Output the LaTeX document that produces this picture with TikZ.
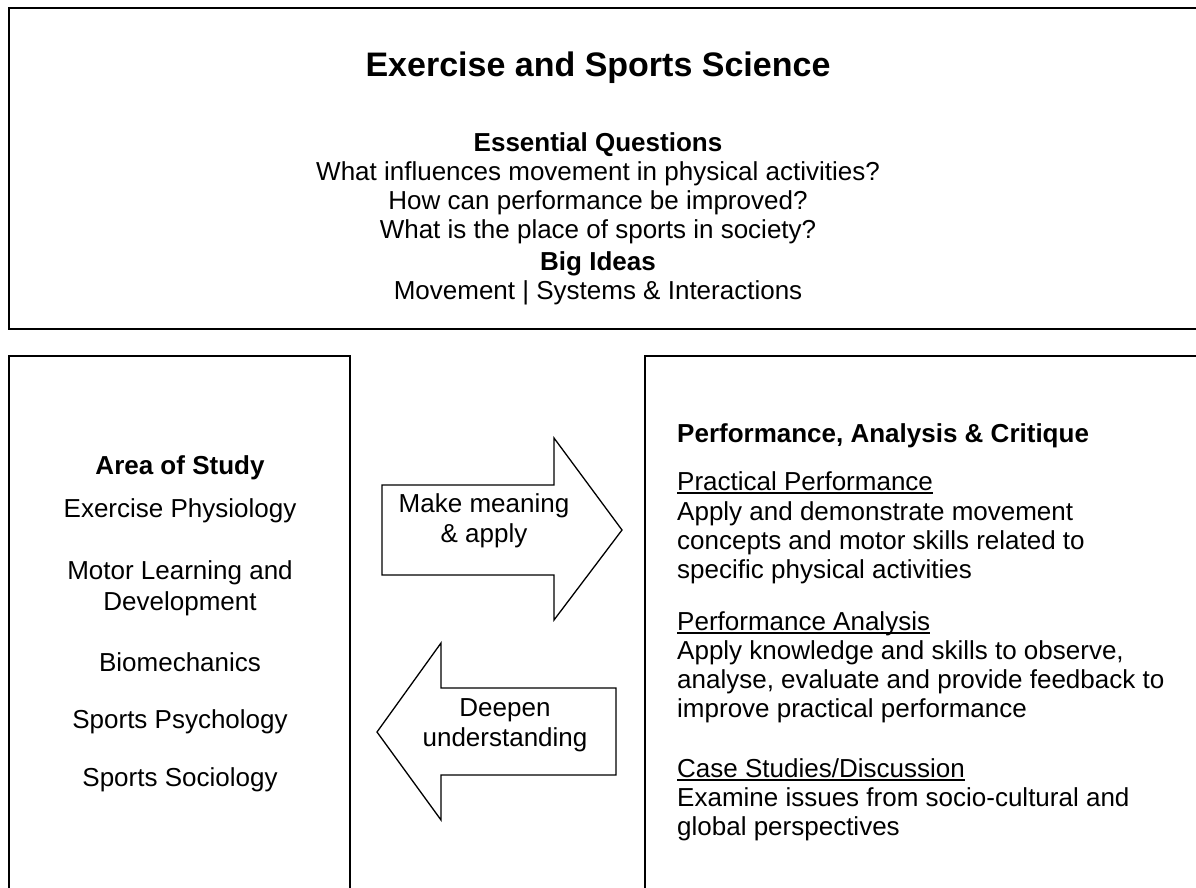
\documentclass[tikz,border=0pt]{standalone}
\usepackage{fontspec}
\setmainfont{Liberation Sans}
\newcommand{\myul}[1]{\setbox0\hbox{#1}\rlap{\rule[-3.5pt]{\wd0}{1.8pt}}\box0}
\begin{document}
\begin{tikzpicture}[x=1pt,y=-1pt,
  txt/.style={font=\fontsize{26}{29}\selectfont, inner sep=0pt, anchor=base},
  hd/.style={font=\fontsize{26}{29}\selectfont\bfseries, inner sep=0pt, anchor=base},
  ttl/.style={font=\fontsize{34}{40}\selectfont\bfseries, inner sep=0pt, anchor=base},
  lt/.style={txt, anchor=base west},
  lhd/.style={hd, anchor=base west},
  frame/.style={draw=black, line width=2pt},
  topframe/.style={draw=black, line width=2.6pt},
  bigarrow/.style={draw=black, line width=1.3pt, line join=miter, fill=white}]
\useasboundingbox (0,0) rectangle (1196,888);
% frames
\draw[topframe] (1210,8) -- (9,8) -- (9,329) -- (1210,329);
\draw[frame] (9,900) -- (9,356) -- (350,356) -- (350,900);
\draw[frame] (645,900) -- (645,356) -- (1210,356);
% top box text
\node[ttl] (title) at (598,77) {Exercise and Sports Science};
\node[hd] (eq) at (598,151) {Essential Questions};
\node[txt] (q1) at (598,180) {What influences movement in physical activities?};
\node[txt] (q2) at (598,209) {How can performance be improved?};
\node[txt] (q3) at (598,238) {What is the place of sports in society?};
\node[hd] (bi) at (598,270) {Big Ideas};
\node[txt] (bil) at (598,299) {Movement | Systems \& Interactions};
% left box
\node[hd] (aos) at (180,474) {Area of Study};
\node[txt] (a1) at (180,517) {Exercise Physiology};
\node[txt] (a2) at (180,579) {Motor Learning and};
\node[txt] (a2b) at (180,610) {Development};
\node[txt] (a3) at (180,671) {Biomechanics};
\node[txt] (a4) at (180,728) {Sports Psychology};
\node[txt] (a5) at (180,786) {Sports Sociology};
% arrows
\draw[bigarrow] (382,485) -- (554,485) -- (554,438) -- (622,530) -- (554,620) -- (554,575) -- (382,575) -- cycle;
\node[txt] (m1) at (484,512) {Make meaning};
\node[txt] (m2) at (484,542) {\& apply};
\draw[bigarrow] (616,688) -- (441,688) -- (441,643) -- (377,732) -- (441,820) -- (441,775) -- (616,775) -- cycle;
\node[txt] (d1) at (505,716) {Deepen};
\node[txt] (d2) at (505,746) {understanding};
% right box
\node[lhd] (pac) at (677,442) {Performance, Analysis \& Critique};
\node[lt] (pp) at (677,490) {\myul{Practical Performance}};
\node[lt] (pp1) at (677,520) {Apply and demonstrate movement};
\node[lt] (pp2) at (677,549) {concepts and motor skills related to};
\node[lt] (pp3) at (677,578) {specific physical activities};
\node[lt] (pa) at (677,630) {\myul{Performance Analysis}};
\node[lt] (pa1) at (677,659) {Apply knowledge and skills to observe,};
\node[lt] (pa2) at (677,688) {analyse, evaluate and provide feedback to};
\node[lt] (pa3) at (677,717) {improve practical performance};
\node[lt] (cs) at (677,777) {\myul{Case Studies/Discussion}};
\node[lt] (cs1) at (677,806) {Examine issues from socio-cultural and};
\node[lt] (cs2) at (677,835) {global perspectives};
\end{tikzpicture}
\end{document}
